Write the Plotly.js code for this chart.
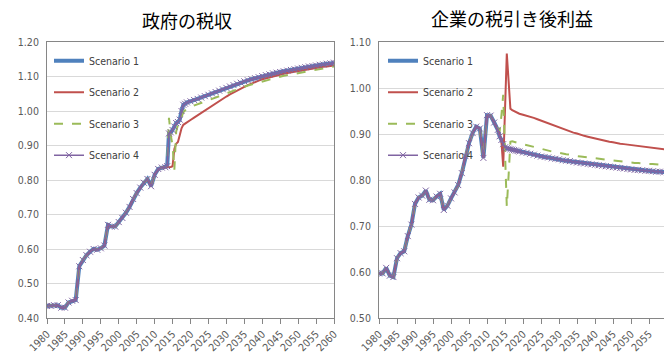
<!DOCTYPE html>
<html>
<head>
<meta charset="utf-8">
<script src="https://cdn.plot.ly/plotly-3.0.1.min.js"></script>
<style>
html,body{margin:0;padding:0;overflow:hidden;background:#fff;}
#chart{width:672px;height:364px;}
</style>
</head>
<body>
<div id="chart"></div>
<script>
// ---- shared time axis ----
var histYears = [1980,1981,1982,1983,1984,1985,1986,1987,1988,1989,1990,1991,1992,1993,1994,1995,1996,1997,1998,1999,2000,2001,2002,2003,2004,2005,2006,2007,2008,2009,2010,2011,2012,2013];
var projYears = [2013.5,2014,2014.5,2015,2015.5,2016,2016.5,2017,2017.5,2018,2018.5,2019,
  2020,2021,2022,2023,2024,2025,2026,2027,2028,2029,2030,2031,2032,2033,2034,2035,2036,2037,2038,2039,2040,
  2041,2042,2043,2044,2045,2046,2047,2048,2049,2050,2051,2052,2053,2054,2055,2056,2057,2058,2059,2060];

// ---- 政府の税収 ----
var taxHist = [0.435,0.435,0.437,0.437,0.430,0.430,0.445,0.450,0.452,0.550,0.568,0.582,0.592,0.600,0.598,0.602,0.610,0.670,0.665,0.665,0.678,0.690,0.705,0.722,0.745,0.762,0.778,0.792,0.803,0.782,0.815,0.832,0.836,0.837];
var taxS1 = [0.840,0.935,0.938,0.945,0.955,0.965,0.968,0.975,1.000,1.018,1.021,1.025,
  1.028,1.032,1.035,1.039,1.043,1.047,1.051,1.055,1.059,1.063,1.067,1.071,1.075,1.079,1.082,1.086,1.089,1.092,1.095,1.098,1.101,
  1.104,1.106,1.109,1.111,1.113,1.115,1.117,1.119,1.121,1.123,1.125,1.127,1.129,1.130,1.132,1.134,1.135,1.137,1.138,1.140];
var taxS2 = [0.836,0.838,0.838,0.840,0.890,0.905,0.910,0.930,0.950,0.960,0.964,0.968,
  0.974,0.981,0.988,0.995,1.002,1.009,1.016,1.023,1.030,1.036,1.042,1.048,1.054,1.060,1.065,1.070,1.075,1.080,1.084,1.088,1.092,
  1.095,1.098,1.101,1.104,1.106,1.108,1.110,1.112,1.114,1.116,1.118,1.120,1.122,1.123,1.125,1.126,1.128,1.129,1.130,1.132];
var taxS3 = [0.840,0.980,0.930,0.900,0.830,0.940,0.960,0.968,0.982,0.996,1.002,1.007,
  1.012,1.016,1.020,1.024,1.028,1.032,1.036,1.040,1.044,1.048,1.052,1.056,1.060,1.063,1.067,1.070,1.074,1.077,1.080,1.083,1.086,
  1.089,1.092,1.095,1.097,1.100,1.102,1.104,1.106,1.108,1.110,1.112,1.114,1.116,1.118,1.120,1.122,1.124,1.126,1.127,1.129];
var taxS4 = taxS1;

// ---- 企業の税引き後利益 ----
var profHist = [0.597,0.597,0.609,0.592,0.589,0.630,0.641,0.645,0.678,0.703,0.748,0.762,0.766,0.777,0.757,0.756,0.764,0.770,0.735,0.744,0.760,0.773,0.789,0.815,0.852,0.880,0.902,0.916,0.912,0.848,0.941,0.940,0.925,0.909];
var profS1 = [0.895,0.887,0.878,0.871,0.869,0.868,0.867,0.866,0.865,0.864,0.863,0.862,
  0.860,0.859,0.857,0.855,0.853,0.851,0.850,0.849,0.847,0.846,0.845,0.843,0.842,0.841,0.839,0.838,0.837,0.836,0.835,0.834,0.833,
  0.832,0.831,0.830,0.829,0.828,0.827,0.826,0.825,0.824,0.823,0.822,0.822,0.821,0.820,0.820,0.819,0.818,0.818,0.817,0.817];
var profS2 = [0.898,0.885,0.829,0.950,1.075,1.015,0.955,0.952,0.950,0.948,0.946,0.944,
  0.942,0.940,0.938,0.935,0.932,0.929,0.926,0.923,0.920,0.917,0.914,0.912,0.909,0.906,0.903,0.901,0.898,0.896,0.894,0.892,0.890,
  0.888,0.886,0.885,0.883,0.882,0.880,0.879,0.878,0.877,0.876,0.875,0.874,0.873,0.872,0.871,0.870,0.869,0.868,0.867,0.866];
var profS3 = [0.905,0.940,0.985,0.860,0.742,0.810,0.883,0.884,0.883,0.882,0.881,0.880,
  0.878,0.876,0.873,0.871,0.869,0.867,0.866,0.864,0.862,0.861,0.859,0.858,0.856,0.855,0.853,0.852,0.851,0.850,0.849,0.848,0.847,
  0.846,0.845,0.844,0.843,0.842,0.841,0.840,0.839,0.839,0.838,0.837,0.837,0.836,0.836,0.835,0.835,0.834,0.834,0.833,0.833];
var profS4 = profS1;

var scenarioNames = ['Scenario 1','Scenario 2','Scenario 3','Scenario 4'];
var chartTitles = ['政府の税収','企業の税引き後利益'];

var years = histYears.concat(projYears);
var narrow = '"DejaVu Sans Condensed","Liberation Sans Narrow","Arial Narrow",sans-serif';
var tickFont = {family:narrow, size:10.5, color:'#595959'};

var styles = [
  {line:{color:'#4F81BD', width:4}, mode:'lines'},
  {line:{color:'#C0504D', width:2}, mode:'lines'},
  {line:{color:'#9BBB59', width:2, dash:'dash'}, mode:'lines'},
  {line:{color:'#8064A2', width:1.5}, mode:'lines+markers',
   marker:{symbol:'x-thin', size:6, color:'#8064A2', line:{color:'#8064A2', width:1}}}
];

function makeTraces(hist, series, xa, ya, leg) {
  return series.map(function(s, i) {
    var t = {
      x: years, y: hist.concat(s), type:'scatter', name: scenarioNames[i],
      xaxis: xa, yaxis: ya, legend: leg, legendgroup: leg + 'g' + i,
      mode: styles[i].mode, line: styles[i].line, hoverinfo:'x+y'
    };
    if (styles[i].marker) t.marker = styles[i].marker;
    return t;
  });
}

var data = makeTraces(taxHist, [taxS1, taxS2, taxS3, taxS4], 'x', 'y', 'legend')
  .concat(makeTraces(profHist, [profS1, profS2, profS3, profS4], 'x2', 'y2', 'legend2'));

var W = 672;
function xax(d0, d1) {
  return {domain:[d0/W, d1/W], range:[1980,2060], tick0:1980, dtick:5, tickangle:-45,
    ticks:'outside', ticklen:5, tickcolor:'#868686', showline:true, linecolor:'#868686', mirror:true,
    showgrid:false, zeroline:false, tickfont:tickFont, automargin:false};
}
function yax(r, anchor) {
  return {range:r, dtick:0.1, tickformat:'.2f', showline:true, linecolor:'#868686', mirror:true,
    ticks:'', showgrid:true, gridcolor:'#D9D9D9', zeroline:false, tickfont:tickFont, anchor:anchor,
    ticklabelstandoff:5, automargin:false};
}
var legFont = {family:narrow, size:10.5, color:'#404040'};
var layout = {
  width: W, height: 364,
  margin:{l:0, r:0, t:42, b:46},
  paper_bgcolor:'#fff', plot_bgcolor:'#fff',
  xaxis: xax(47, 334),
  yaxis: yax([0.4,1.2], 'x'),
  xaxis2: xax(379, 667),
  yaxis2: yax([0.5,1.1], 'x2'),
  legend: {x:49/W, xanchor:'left', y:0.985, yanchor:'top', bgcolor:'rgba(0,0,0,0)', font:legFont, tracegroupgap:12.5},
  legend2: {x:383/W, xanchor:'left', y:0.985, yanchor:'top', bgcolor:'rgba(0,0,0,0)', font:legFont, tracegroupgap:12.5},
  annotations: [
    {text:chartTitles[0], xref:'paper', yref:'paper', x:187/W, y:1, yanchor:'bottom', xanchor:'center',
     showarrow:false, font:{family:'"Noto Sans CJK JP",sans-serif', size:18, color:'#000'}, yshift:7},
    {text:chartTitles[1], xref:'paper', yref:'paper', x:512/W, y:1, yanchor:'bottom', xanchor:'center',
     showarrow:false, font:{family:'"Noto Sans CJK JP",sans-serif', size:18, color:'#000'}, yshift:9}
  ],
  showlegend:true
};
Plotly.newPlot('chart', data, layout, {displayModeBar:false, staticPlot:true});
</script>
</body>
</html>
